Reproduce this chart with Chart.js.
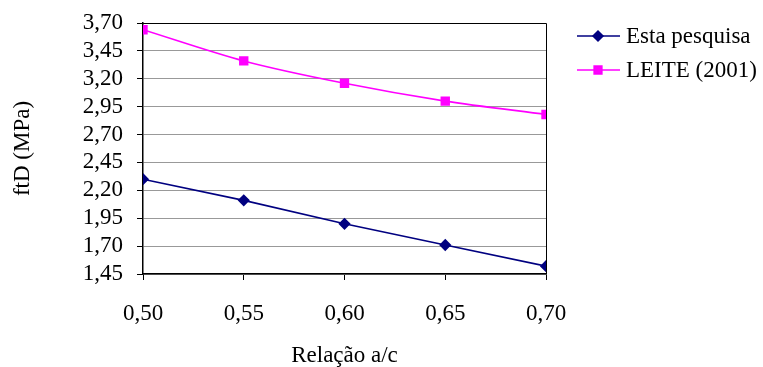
<!DOCTYPE html>
<html>
<head>
<meta charset="utf-8">
<script src="https://cdn.jsdelivr.net/npm/chart.js@4.4.1/dist/chart.umd.min.js"></script>
<style>
  html, body { margin: 0; padding: 0; background: #fff; }
  #wrap { width: 763px; height: 367px; position: relative; }
</style>
</head>
<body>
<div id="wrap"><canvas id="c" width="763" height="367"></canvas></div>
<script>
// ---- data ----
const relacaoAC = [0.50, 0.55, 0.60, 0.65, 0.70];
const estaPesquisa = [2.30, 2.11, 1.90, 1.71, 1.52];
const leite2001 = [3.64, 3.36, 3.16, 3.00, 2.88];
const seriesNames = ['Esta pesquisa', 'LEITE (2001)'];
const yTickValues = [1.45, 1.70, 1.95, 2.20, 2.45, 2.70, 2.95, 3.20, 3.45, 3.70];
const xTickValues = [0.50, 0.55, 0.60, 0.65, 0.70];
const xTitle = 'Relação a/c';
const yTitle = 'ftD (MPa)';

const FONT = '"Liberation Serif", "Times New Roman", serif';
const fmt = v => v.toFixed(2).replace('.', ',');

const legendPlugin = {
  id: 'customLegend',
  afterDraw(chart) {
    const ctx = chart.ctx;
    const rows = [36, 70];
    chart.data.datasets.forEach((ds, i) => {
      const y = rows[i];
      ctx.save();
      ctx.strokeStyle = ds.borderColor;
      ctx.lineWidth = 1.5;
      ctx.beginPath();
      ctx.moveTo(577, y);
      ctx.lineTo(620, y);
      ctx.stroke();
      Chart.helpers.drawPoint(ctx, {pointStyle: ds.pointStyle, radius: ds.pointRadius, borderWidth: 1}, 598, y);
      ctx.fillStyle = ds.pointBackgroundColor;
      ctx.fill();
      ctx.fillStyle = '#000';
      ctx.font = '23px ' + FONT;
      ctx.textBaseline = 'middle';
      ctx.textAlign = 'left';
      ctx.fillText(ds.label, 626, y + 1);
      ctx.restore();
    });
  }
};

const borderPlugin = {
  id: 'plotBorder',
  beforeDatasetsDraw(chart) {
    const {left, right, top, bottom} = chart.chartArea;
    const ctx = chart.ctx;
    ctx.save();
    ctx.strokeStyle = '#000';
    ctx.lineWidth = 1;
    ctx.beginPath();
    ctx.moveTo(left, top + 0.5);
    ctx.lineTo(right + 0.5, top + 0.5);
    ctx.lineTo(right + 0.5, bottom);
    ctx.stroke();
    ctx.restore();
  }
};

new Chart(document.getElementById('c'), {
  type: 'line',
  data: {
    datasets: [
      {
        label: seriesNames[0],
        data: relacaoAC.map((x, i) => ({x, y: estaPesquisa[i]})),
        borderColor: '#000080',
        backgroundColor: '#000080',
        pointBackgroundColor: '#000080',
        pointBorderColor: '#000080',
        pointStyle: 'rectRot',
        pointRadius: 5,
        borderWidth: 1.6,
        tension: 0
      },
      {
        label: seriesNames[1],
        data: relacaoAC.map((x, i) => ({x, y: leite2001[i]})),
        borderColor: '#FF00FF',
        backgroundColor: '#FF00FF',
        pointBackgroundColor: '#FF00FF',
        pointBorderColor: '#FF00FF',
        pointStyle: 'rect',
        pointRadius: 5.5,
        borderWidth: 1.6,
        tension: 0.3
      }
    ]
  },
  options: {
    responsive: false,
    animation: false,
    events: [],
    layout: { padding: { top: 23, right: 217, left: 0, bottom: 0 } },
    plugins: { legend: { display: false }, tooltip: { enabled: false } },
    scales: {
      x: {
        type: 'linear',
        min: 0.50,
        max: 0.70,
        afterBuildTicks(scale) { scale.ticks = xTickValues.map(v => ({value: v})); },
        afterFit(scale) { scale.height = 93; },
        ticks: {
          color: '#000',
          font: { family: FONT, size: 23 },
          padding: 20,
          maxRotation: 0,
          autoSkip: false,
          callback: v => fmt(v)
        },
        grid: { drawOnChartArea: false, drawTicks: true, tickLength: 6, tickColor: '#000' },
        border: { color: '#000', width: 1.5 },
        title: {
          display: true,
          text: xTitle,
          color: '#000',
          font: { family: FONT, size: 23, lineHeight: 1 },
          padding: { top: 0, bottom: 0 }
        }
      },
      y: {
        type: 'linear',
        min: 1.45,
        max: 3.70,
        afterBuildTicks(scale) { scale.ticks = yTickValues.map(v => ({value: v})); },
        afterFit(scale) { scale.width = 143; scale.paddingTop = 12; scale.paddingBottom = 12; },
        ticks: {
          color: '#000',
          font: { family: FONT, size: 23 },
          padding: 14,
          autoSkip: false,
          callback: v => fmt(v)
        },
        grid: { color: '#999', tickLength: 6, tickColor: '#000', lineWidth: 1 },
        border: { color: '#000', width: 1.5 },
        title: {
          display: true,
          text: yTitle,
          color: '#000',
          font: { family: FONT, size: 23, lineHeight: 1 },
          padding: { top: 11, bottom: 0 }
        }
      }
    }
  },
  plugins: [borderPlugin, legendPlugin]
});
</script>
</body>
</html>
